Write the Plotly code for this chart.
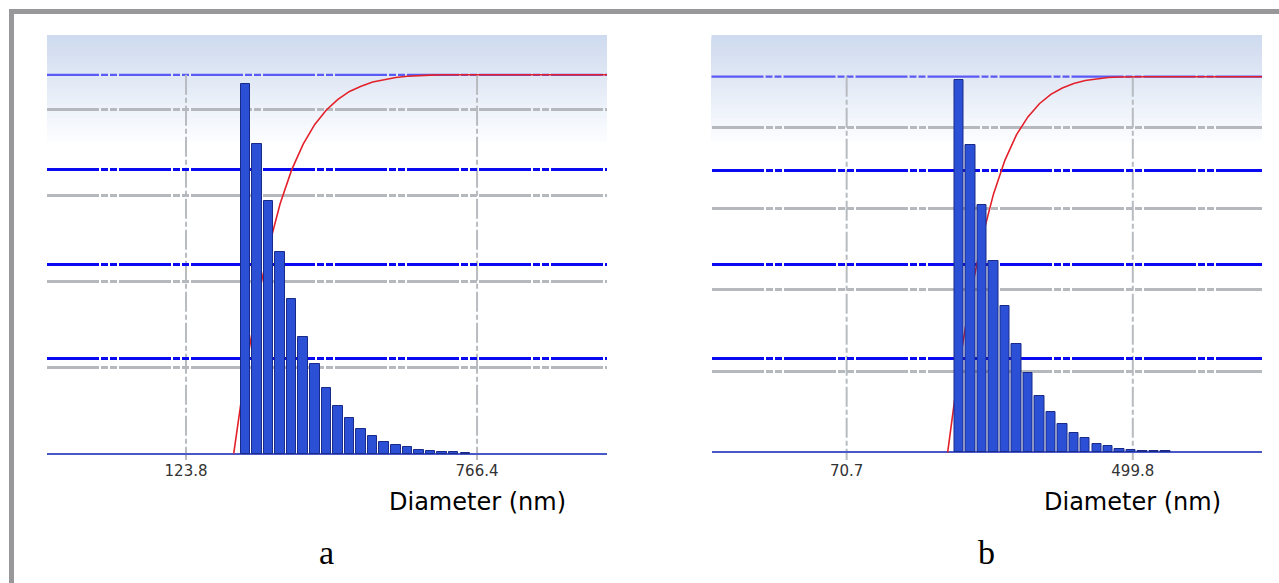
import math
import numpy as np
import plotly.graph_objects as go

# ---------------- data ----------------
# panel a
diam_a = [179.5, 193.0, 207.5, 223.1, 239.9, 257.9, 277.3, 298.2, 320.6, 344.7,
          370.6, 398.5, 428.5, 460.7, 495.3, 532.6, 572.6, 615.7, 662.0, 711.8]
pct_a = [21.5, 18.0, 14.7, 11.7, 9.0, 6.8, 5.2, 3.8, 2.8, 2.1,
         1.45, 1.05, 0.68, 0.48, 0.37, 0.24, 0.16, 0.12, 0.08, 0.06]
cum_a = [21.5, 39.5, 54.2, 65.9, 74.9, 81.7, 86.9, 90.7, 93.5, 95.6,
         97.0, 98.1, 98.8, 99.3, 99.6, 99.8, 99.9, 100, 100, 100]
cum_start_a = 166.9
ticks_a = [123.8, 766.4]

# panel b
diam_b = [152.5, 164.9, 178.4, 192.9, 208.6, 225.6, 244.0, 263.9, 285.4, 308.7,
          333.8, 361.0, 390.5, 422.3, 456.7, 493.9, 534.2, 577.7, 624.8]
pct_b = [22.9, 18.9, 15.2, 11.8, 9.0, 6.66, 4.85, 3.48, 2.47, 1.74,
         1.16, 0.87, 0.52, 0.36, 0.23, 0.15, 0.07, 0.07, 0.07]
cum_b = [22.9, 41.8, 57.0, 68.8, 77.8, 84.5, 89.3, 92.8, 95.3, 97.0,
         98.2, 99.0, 99.5, 99.8, 99.9, 100, 100, 100, 100]
cum_start_b = 141.0
ticks_b = [70.7, 499.8]

panel_labels = ["a", "b"]
axis_title = "Diameter (nm)"
hist_grid = [5, 10, 15, 20]
cum_grid = [25, 50, 75]
cum_top = 100

# ---------------- layout geometry ----------------
W, H = 1279, 583


def px(x):
    return x / W


def py(y):
    return 1 - y / H


panels = [
    dict(diam=diam_a, pct=pct_a, cum=cum_a, cstart=cum_start_a, ticks=ticks_a,
         xdom=[px(47), px(607)], xr=[1.7145, 3.238],
         cumr=[-1.66, 110.5], histr=[-0.366, 24.34], label_x=326),
    dict(diam=diam_b, pct=pct_b, cum=cum_b, cstart=cum_start_b, ticks=ticks_b,
         xdom=[px(711.5), px(1262)], xr=[1.4482, 3.0823],
         cumr=[-2.05, 111.1], histr=[-0.474, 25.68], label_x=986),
]
ydom = [py(460), py(35)]

HDASH = "52px,2px,7px,2px,7px,2px"
VDASH = "20px,3px,5px,3px"

fig = go.Figure()
shapes = []
annotations = []
layout = {}

for i, p in enumerate(panels):
    n = i + 1
    xa = "x" if n == 1 else f"x{n}"
    yc = "y" if n == 1 else f"y{2 * n - 1}"      # cumulative axis
    yh = f"y{2 * n}"                              # histogram axis (overlay)
    xkey = "xaxis" if n == 1 else f"xaxis{n}"
    yckey = "yaxis" if n == 1 else f"yaxis{2 * n - 1}"
    yhkey = f"yaxis{2 * n}"

    d = np.array(p["diam"])
    step = math.log10(d[1] / d[0])
    half = 0.41 * step
    lo = d * 10 ** (-half)
    hi = d * 10 ** half

    # cumulative curve (behind bars)
    fig.add_trace(go.Scatter(
        x=[p["cstart"]] + list(p["diam"]) + [10 ** p["xr"][1]],
        y=[0] + list(p["cum"]) + [cum_top],
        mode="lines", line=dict(color="#e3212b", width=1.6),
        xaxis=xa, yaxis=yc, hoverinfo="skip"))

    # histogram bars
    fig.add_trace(go.Bar(
        x=p["diam"], y=p["pct"], offset=list(lo - d), width=list(hi - lo),
        marker=dict(color="#2b50d6", line=dict(color="#1a2a88", width=1)),
        xaxis=xa, yaxis=yh, hoverinfo="skip"))

    layout[xkey] = dict(
        type="log", domain=p["xdom"], range=p["xr"], anchor=yc,
        tickvals=p["ticks"], ticktext=[str(t) for t in p["ticks"]],
        showgrid=False, zeroline=False, showline=False, ticks="",
        tickfont=dict(family="DejaVu Sans", size=15, color="#333333"))
    layout[yckey] = dict(
        domain=ydom, range=p["cumr"], anchor=xa, tickvals=cum_grid,
        showticklabels=False, showgrid=True, gridcolor="#0a0af0",
        gridwidth=2.5, griddash=HDASH, zeroline=True,
        zerolinecolor="#4a57c6", zerolinewidth=1.5, showline=False, ticks="")
    layout[yhkey] = dict(
        overlaying=yc, anchor=xa, range=p["histr"], tickvals=hist_grid,
        showticklabels=False, showgrid=True, gridcolor="#b5b9bd",
        gridwidth=2.5, griddash=HDASH, zeroline=False, showline=False,
        ticks="")

    # gradient background (stacked overlapping bands, below gridlines)
    nb = 40
    top_c = np.array([206, 218, 238])
    bot_c = np.array([252, 253, 255])
    g_top, g_bot = 1.0, (460 - 142) / (460 - 35)
    for k in range(nb):
        t = k / (nb - 1)
        c = top_c + (bot_c - top_c) * t
        y1 = g_top - (g_top - g_bot) * k / nb
        shapes.append(dict(
            type="rect", xref=f"{xa} domain", yref=f"{yc} domain",
            x0=0, x1=1, y0=g_bot, y1=y1, layer="below",
            fillcolor=f"rgb({int(round(c[0]))},{int(round(c[1]))},{int(round(c[2]))})",
            line=dict(width=0)))

    # lighter 100 % line
    shapes.append(dict(
        type="line", xref=f"{xa} domain", yref=yc, x0=0, x1=1,
        y0=cum_top, y1=cum_top, layer="below",
        line=dict(color="#5a5af4", width=2.2, dash=HDASH)))

    # vertical grid lines at ticks
    for t in p["ticks"]:
        shapes.append(dict(
            type="line", xref=xa, yref=yc, x0=t, x1=t, y0=cum_top,
            y1=p["cumr"][0], layer="below",
            line=dict(color="#b8bcc0", width=2, dash=VDASH)))

    annotations.append(dict(
        text=axis_title, xref=xa, yref="paper",
        x=math.log10(p["ticks"][1]), y=py(502), showarrow=False,
        xanchor="center", yanchor="middle",
        font=dict(family="DejaVu Sans", size=24, color="#000000")))
    annotations.append(dict(
        text=panel_labels[i], xref="paper", yref="paper",
        x=px(p["label_x"]), y=py(552), showarrow=False,
        xanchor="center", yanchor="middle",
        font=dict(family="Liberation Serif", size=34, color="#000000")))

# outer frame (top and left edges visible)
shapes.append(dict(
    type="rect", xref="paper", yref="paper",
    x0=px(11.5), x1=1.2, y0=-0.2, y1=py(11.5), layer="above",
    line=dict(color="#98989b", width=5), fillcolor="rgba(0,0,0,0)"))

fig.update_layout(
    width=W, height=H, autosize=False,
    margin=dict(l=0, r=0, t=0, b=0),
    template="none", showlegend=False,
    paper_bgcolor="white", plot_bgcolor="white",
    bargap=0, shapes=shapes, annotations=annotations, **layout)

fig.write_html("out.html",
               config={"displayModeBar": False},
               post_script="document.body.style.margin='0';"
                           "document.body.style.overflow='hidden';")
